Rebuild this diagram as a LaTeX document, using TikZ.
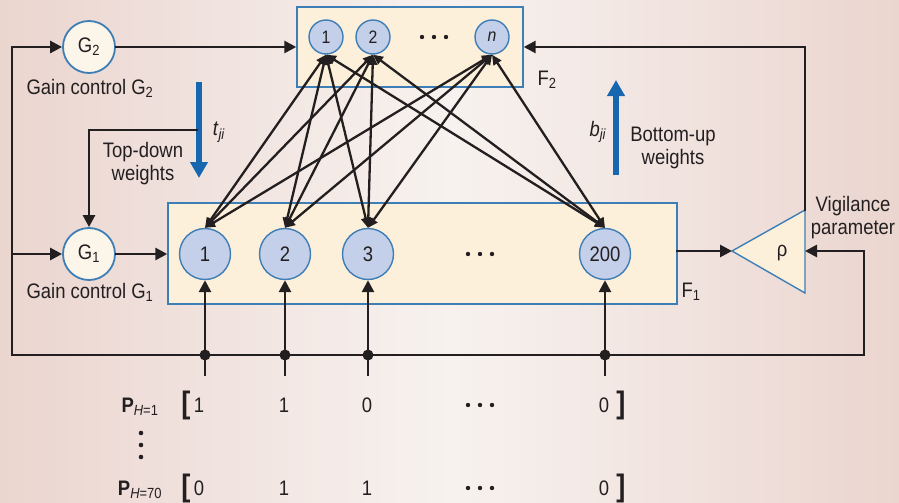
\documentclass[tikz,border=0pt]{standalone}
\usepackage{fontspec}
\setmainfont[FakeStretch=0.88]{Liberation Sans}
\usetikzlibrary{arrows.meta}
\definecolor{bgEdge}{HTML}{EBD5CF}
\definecolor{bgMid}{HTML}{F7F2EF}
\definecolor{layerFill}{HTML}{FDF0DA}
\definecolor{unitFill}{HTML}{C4CFE9}
\definecolor{gainFill}{HTML}{FCF5EA}
\definecolor{rimBlue}{HTML}{3E7EB6}
\definecolor{weightBlue}{HTML}{1666B0}
\definecolor{inkBlack}{HTML}{231F20}

\begin{document}
\begin{tikzpicture}
[x=1pt,y=-1pt,
  font=\fontsize{21}{23}\selectfont,text=inkBlack,
  layerDecorate/.style={draw=rimBlue,fill=layerFill,line width=1.4pt,inner sep=0pt},
  unitDecorate/.style={shape=circle,draw=rimBlue,fill=unitFill,line width=1.4pt,inner sep=0pt,minimum size=51pt},
  topUnitDecorate/.style={unitDecorate,minimum size=34pt,font=\fontsize{18}{20}\selectfont},
  gainDecorate/.style={shape=circle,draw=rimBlue,fill=gainFill,line width=1.8pt,inner sep=0pt,minimum size=52pt},
  lineDecorate/.style={-{Triangle[length=12pt,width=12pt]},line width=2.7pt,draw=inkBlack,line cap=rect},
  linkDecorate/.style={{Triangle[length=10pt,width=9pt]}-{Triangle[length=10pt,width=9pt]},line width=2.3pt,draw=inkBlack},
  weightDecorate/.style={-{Triangle[length=16pt,width=17pt]},line width=5.5pt,draw=weightBlue},
  textDecorate/.style={align=center,inner sep=0pt},
  bracketDecorate/.style={font=\fontsize{31}{31}\selectfont\bfseries}]
%% background
\shade[left color=bgEdge,right color=bgEdge,middle color=bgMid] (0,0) rectangle (899,503);
\useasboundingbox (0,0) rectangle (899,503);
%% layers
\node (F2box) at (410,47) [layerDecorate,minimum width=226pt,minimum height=80pt] {};
\node (F1box) at (422.5,253.5) [layerDecorate,minimum width=509pt,minimum height=101pt] {};
\coordinate (vigTip) at (732,251);
\coordinate (vigTop) at (805,210);
\coordinate (vigBot) at (805,293);
\coordinate (vigIn) at (805,251);
\draw[layerDecorate] (vigTip) -- (vigTop) -- (vigBot) -- cycle;
%% F2 units
\foreach \nodename/\x/\y/\txt in {
  a1/326/37/1, a2/373/37/2, an/492/37/\textit{n}}
{
  \node (\nodename) at (\x,\y) [topUnitDecorate] {\txt};
}
%% F1 units
\foreach \nodename/\x/\y/\txt in {
  b1/205/254/1, b2/285/254/2, b3/368/254/3, b200/605/254/200}
{
  \node (\nodename) at (\x,\y) [unitDecorate] {\txt};
}
%% ellipsis dots
\foreach \x/\y in {434/37, 480/254, 480/405, 480/488}
{
  \foreach \dx in {-12,0,12}
    \fill[inkBlack] (\x+\dx,\y) circle (2.2pt);
}
%% gain control and labels
\node (G2) at (89,47) [gainDecorate] {G\textsubscript{2}};
\node (G1) at (89,254) [gainDecorate] {G\textsubscript{1}};
\node (G2label) at (90,88) {Gain control G\textsubscript{2}};
\node (G1label) at (90,292) {Gain control G\textsubscript{1}};
\node (F2label) at (547,80) {F\textsubscript{2}};
\node (F1label) at (691,292) {F\textsubscript{1}};
\node (tdLabel) at (143,164) [textDecorate] {Top-down\\weights};
\node (buLabel) at (673,148) [textDecorate] {Bottom-up\\weights};
\node (vigLabel) at (853,218) [textDecorate] {Vigilance\\parameter};
\node (tLabel) at (219,132) {\textit{t}\textsubscript{\textit{ji}}};
\node (bLabel) at (598,132) {\textit{b}\textsubscript{\textit{ji}}};
\node (rho) at (782,253) {ρ};
%% weight arrows
\coordinate (tdStart) at (199,82);
\coordinate (tdEnd) at (199,178);
\coordinate (buStart) at (616,175);
\coordinate (buEnd) at (616,80);
\draw[weightDecorate] (tdStart) -- (tdEnd);
\draw[weightDecorate] (buStart) -- (buEnd);
%% control lines
\coordinate (busL) at (12,355);
\coordinate (busR) at (864,355);
\coordinate (leftG1) at (12,254);
\coordinate (tdTap) at (197,130);
\draw[lineDecorate] (busL) |- (G2);
\draw[lineDecorate] (leftG1) -- (G1);
\draw[lineDecorate] (G2) -- (G2 -| F2box.west);
\draw[lineDecorate] (G1) -- (G1 -| F1box.west);
\draw[lineDecorate] (tdTap) -| (G1);
\draw[lineDecorate] (F1box.east |- vigTip) -- (vigTip);
\draw[lineDecorate] (vigTop) |- (F2box.east);
\draw[lineDecorate] (busL) -- (busR) |- (vigIn);
%% inputs
\foreach \nodename/\x in {b1/205, b2/285, b3/368, b200/605}
{
  \coordinate (in\nodename) at (\x,375);
  \draw[lineDecorate] (in\nodename) -- (\nodename);
  \fill[inkBlack] (\x,355) circle (5.5pt);
}
%% F1 <-> F2 links
\foreach \startnode in {a1,a2,an}
  \foreach \endnode in {b1,b2,b3,b200}
    \draw[linkDecorate] (\startnode.south) -- (\endnode.north);
%% input patterns
\foreach \rowname/\y/\idx/\va/\vb/\vc in {
  p1/405/1/1/1/0, p70/488/70/0/1/1}
{
  \node (\rowname) at (140,\y+2) {\textbf{P}\textsubscript{\textit{H}=\idx}};
  \node (\rowname open) at (186,\y) [bracketDecorate] {[};
  \node (\rowname a) at (199,\y) {\va};
  \node (\rowname b) at (284,\y) {\vb};
  \node (\rowname c) at (367,\y) {\vc};
  \node (\rowname z) at (604,\y) {0};
  \node (\rowname close) at (621,\y) [bracketDecorate] {]};
}
\foreach \y in {433,445,457}
  \fill[inkBlack] (141,\y) circle (2.3pt);
\end{tikzpicture}
\end{document}
